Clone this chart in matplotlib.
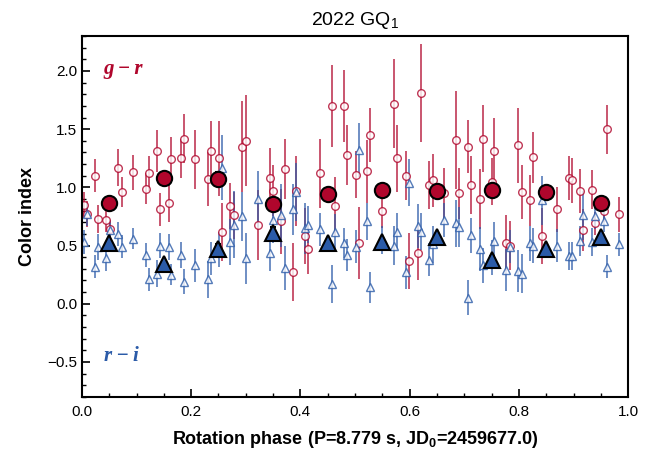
import numpy as np
import matplotlib
matplotlib.use("Agg")
import matplotlib.pyplot as plt
from matplotlib.ticker import MultipleLocator

# -------------------------
# Data
# -------------------------
phase = [0.004, 0.009, 0.024, 0.030, 0.045, 0.051, 0.067, 0.073, 0.094, 0.117,
         0.122, 0.138, 0.143, 0.159, 0.164, 0.181, 0.187, 0.208, 0.230, 0.236,
         0.251, 0.257, 0.272, 0.279, 0.294, 0.300, 0.322, 0.344, 0.349, 0.364,
         0.371, 0.387, 0.392, 0.408, 0.414, 0.436, 0.457, 0.464, 0.479, 0.485,
         0.501, 0.507, 0.522, 0.528, 0.549, 0.571, 0.577, 0.593, 0.598, 0.615,
         0.620, 0.636, 0.642, 0.663, 0.685, 0.691, 0.706, 0.712, 0.728, 0.734,
         0.750, 0.755, 0.777, 0.783, 0.799, 0.805, 0.821, 0.826, 0.842, 0.869,
         0.891, 0.897, 0.912, 0.918, 0.934, 0.940, 0.956, 0.962, 0.983]

g_r = [0.85, 0.77, 1.10, 0.73, 0.72, 0.64, 1.17, 0.96, 1.13, 0.99,
       1.12, 1.31, 0.81, 0.87, 1.24, 1.25, 1.42, 1.24, 1.07, 1.31,
       1.25, 0.62, 0.84, 0.76, 1.35, 1.40, 0.68, 1.08, 0.97, 0.71,
       1.16, 0.27, 0.97, 0.58, 0.47, 1.12, 1.70, 0.84, 1.70, 1.28,
       1.11, 0.52, 1.14, 1.45, 0.80, 1.72, 1.25, 1.10, 0.37, 0.44,
       1.81, 1.02, 1.06, 0.95, 1.41, 0.95, 1.35, 1.02, 0.90, 1.42,
       1.05, 1.31, 0.52, 0.50, 1.36, 0.96, 0.89, 1.26, 0.58, 0.81,
       1.08, 1.06, 0.97, 0.63, 0.98, 0.69, 0.80, 1.50, 0.77]

g_r_err = [0.11, 0.11, 0.14, 0.12, 0.10, 0.07, 0.16, 0.13, 0.15, 0.13,
           0.15, 0.18, 0.14, 0.17, 0.19, 0.17, 0.21, 0.25, 0.23, 0.26,
           0.32, 0.25, 0.20, 0.20, 0.39, 0.39, 0.30, 0.26, 0.22, 0.28,
           0.26, 0.25, 0.30, 0.24, 0.21, 0.30, 0.35, 0.25, 0.31, 0.26,
           0.20, 0.31, 0.27, 0.23, 0.15, 0.38, 0.29, 0.21, 0.24, 0.24,
           0.42, 0.21, 0.23, 0.22, 0.42, 0.22, 0.23, 0.25, 0.26, 0.29,
           0.20, 0.29, 0.24, 0.21, 0.32, 0.23, 0.22, 0.22, 0.24, 0.19,
           0.19, 0.19, 0.19, 0.18, 0.17, 0.10, 0.10, 0.21, 0.15]

r_i = [0.53, 0.77, 0.32, 0.49, 0.39, 0.63, 0.60, 0.49, 0.56, 0.42,
       0.21, 0.26, 0.50, 0.49, 0.25, 0.42, 0.19, 0.33, 0.21, 0.39,
       0.47, 1.17, 0.53, 0.68, 0.75, 0.39, 0.90, 0.44, 0.72, 0.76,
       0.31, 0.81, 0.96, 0.65, 0.68, 0.64, 0.17, 0.62, 0.52, 0.42,
       0.49, 1.32, 0.71, 0.14, 0.55, 0.50, 0.62, 0.27, 1.04, 0.67,
       0.62, 0.38, 0.51, 0.72, 0.69, 0.66, 0.05, 0.59, 0.47, 0.33,
       0.40, 0.54, 0.29, 0.49, 0.28, 0.26, 0.52, 0.50, 0.89, 0.50,
       0.41, 0.41, 0.54, 0.76, 0.53, 0.75, 0.71, 0.32, 0.51]

r_i_err = [0.10, 0.10, 0.10, 0.11, 0.11, 0.09, 0.10, 0.10, 0.09, 0.10,
           0.10, 0.12, 0.11, 0.11, 0.09, 0.11, 0.11, 0.14, 0.16, 0.14,
           0.15, 0.28, 0.20, 0.29, 0.21, 0.22, 0.24, 0.16, 0.20, 0.27,
           0.19, 0.22, 0.25, 0.22, 0.16, 0.14, 0.16, 0.15, 0.13, 0.14,
           0.14, 0.23, 0.16, 0.13, 0.12, 0.17, 0.16, 0.14, 0.20, 0.19,
           0.16, 0.14, 0.16, 0.15, 0.20, 0.17, 0.15, 0.15, 0.19, 0.15,
           0.15, 0.16, 0.18, 0.14, 0.18, 0.17, 0.15, 0.15, 0.21, 0.14,
           0.12, 0.12, 0.13, 0.21, 0.12, 0.11, 0.09, 0.10, 0.10]

# binned means
bin_phase = [0.05, 0.15, 0.25, 0.35, 0.45, 0.55, 0.65, 0.75, 0.85, 0.95]
bin_g_r = [0.87, 1.08, 1.07, 0.86, 0.94, 0.98, 0.97, 0.98, 0.96, 0.87]
bin_g_r_err = [0.03, 0.03, 0.06, 0.04, 0.05, 0.04, 0.05, 0.04, 0.04, 0.03]
bin_r_i = [0.52, 0.34, 0.47, 0.61, 0.52, 0.53, 0.57, 0.38, 0.47, 0.57]
bin_r_i_err = [0.03, 0.03, 0.04, 0.05, 0.03, 0.03, 0.03, 0.03, 0.03, 0.03]

RED = "#b0062c"
BLUE = "#2b5ba8"

# -------------------------
# Plot
# -------------------------
plt.rcParams["font.family"] = ["Liberation Sans", "DejaVu Sans"]
plt.rcParams["mathtext.fontset"] = "custom"
plt.rcParams["mathtext.rm"] = "Liberation Sans"
plt.rcParams["mathtext.bf"] = "Liberation Sans:bold"

fig = plt.figure(figsize=(6.55, 4.51), dpi=100)
ax = fig.add_axes([0.125, 0.12, 0.834, 0.80])

ax.errorbar(phase, g_r, yerr=g_r_err, fmt="o", ms=5.5, mfc="white", mec=RED,
            mew=1.0, ecolor=RED, elinewidth=1.2, alpha=0.8, capsize=0, zorder=2)
ax.errorbar(phase, r_i, yerr=r_i_err, fmt="^", ms=5.5, mfc="white", mec=BLUE,
            mew=1.0, ecolor=BLUE, elinewidth=1.2, alpha=0.8, capsize=0, zorder=2)

ax.errorbar(bin_phase, bin_g_r, yerr=bin_g_r_err, fmt="o", ms=11, mfc=RED,
            mec="black", mew=1.5, ecolor="black", elinewidth=1.3, capsize=2.5,
            capthick=1.3, zorder=5)
ax.errorbar(bin_phase, bin_r_i, yerr=bin_r_i_err, fmt="^", ms=12, mfc=BLUE,
            mec="black", mew=1.5, ecolor="black", elinewidth=1.3, capsize=2.5,
            capthick=1.3, zorder=5)

serif = ["Liberation Serif", "DejaVu Serif"]
ax.text(0.04, 2.02, "g\u2009\u2212\u2009r", color=RED, fontsize=15,
        fontweight="bold", fontstyle="italic", family=serif, va="center")
ax.text(0.04, -0.45, "r\u2009\u2212\u2009i", color=BLUE, fontsize=15,
        fontweight="bold", fontstyle="italic", family=serif, va="center")

ax.set_xlim(0, 1)
ax.set_ylim(-0.8, 2.3)
ax.xaxis.set_major_locator(MultipleLocator(0.2))
ax.xaxis.set_minor_locator(MultipleLocator(0.05))
ax.yaxis.set_major_locator(MultipleLocator(0.5))
ax.yaxis.set_minor_locator(MultipleLocator(0.1))
ax.tick_params(which="both", direction="in", labelsize=11)
ax.tick_params(axis="x", pad=6)
ax.tick_params(which="major", length=6, width=1.2)
ax.tick_params(which="minor", length=3, width=1.0)
for s in ax.spines.values():
    s.set_linewidth(1.5)

ax.set_title("2022 GQ$_\\mathrm{1}$", fontsize=14, pad=8)
ax.set_xlabel("Rotation phase (P=8.779 s, JD$_\\mathbf{0}$=2459677.0)",
              fontsize=13, fontweight="bold", labelpad=7)
ax.set_ylabel("Color index", fontsize=13, fontweight="bold", labelpad=8)

fig.savefig("out.png", dpi=100)
